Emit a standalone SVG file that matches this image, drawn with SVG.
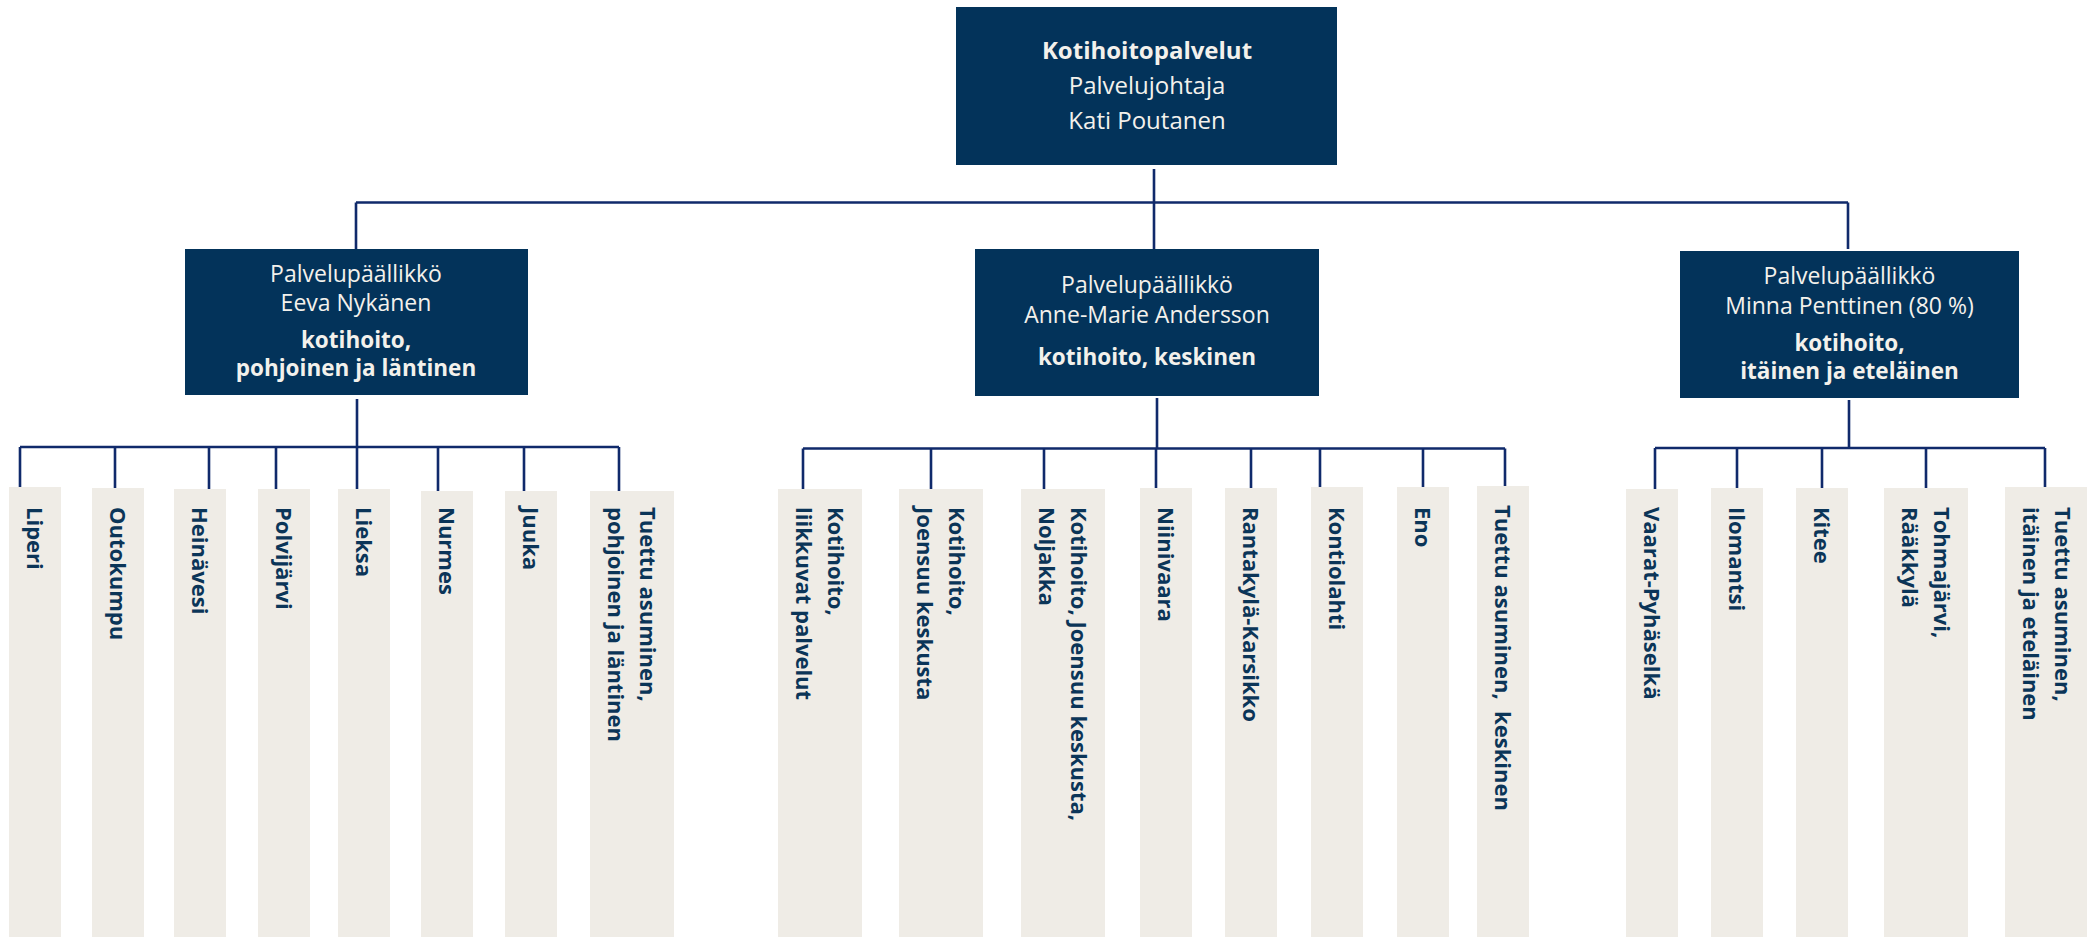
<svg xmlns="http://www.w3.org/2000/svg" width="2087" height="937" viewBox="0 0 2087 937">
<style>
.mgr{fill:#03335a}
.mt{font-family:"Open Sans","Liberation Sans",sans-serif;font-size:23px;fill:#f3f1ec;text-anchor:middle}
.mb{font-weight:bold;font-size:22.5px}
.leaf{fill:#efece6}
.lt{font-family:"Open Sans","Liberation Sans",sans-serif;font-weight:bold;font-size:22px;fill:#0b3558}
.con{stroke:#102a6b;stroke-width:2.6;fill:none}
</style>
<rect width="2087" height="937" fill="#ffffff"/>

<g id="connectors" class="con">
<path d="M1154 169V249M356 202.5H1848M356 202.5V249M1848 202.5V249"/>
<path d="M357 399V447M20 447H619M20 447V487M115 447V488M209 447V489M276 447V489M357 447V489M438 447V491M524 447V491M619 447V491"/>
<path d="M1157 398V448.5M803 448.5H1505M803 448.5V489M931 448.5V489M1044 448.5V489M1156 448.5V488M1251 448.5V488M1320 448.5V487M1423 448.5V487M1505 448.5V486"/>
<path d="M1849 400V448M1655 448H2045M1655 448V489M1737 448V488M1822 448V488M1926 448V488M2045 448V487"/>
</g>

<g id="top">
<rect class="mgr" x="956" y="7" width="381" height="158"/>
<text class="mt" style="font-size:24px" x="1147" y="59"><tspan font-weight="bold">Kotihoitopalvelut</tspan><tspan x="1147" y="94">Palvelujohtaja</tspan><tspan x="1147" y="129">Kati Poutanen</tspan></text>
</g>

<g id="mgr-left">
<rect class="mgr" x="185" y="249" width="343" height="146"/>
<text class="mt" x="356" y="282">Palvelupäällikkö<tspan x="356" y="311">Eeva Nykänen</tspan><tspan class="mb" x="356" y="348">kotihoito,</tspan><tspan class="mb" x="356" y="376">pohjoinen ja läntinen</tspan></text>
</g>

<g id="mgr-middle">
<rect class="mgr" x="975" y="249" width="344" height="147"/>
<text class="mt" x="1147" y="293">Palvelupäällikkö<tspan x="1147" y="323">Anne-Marie Andersson</tspan><tspan class="mb" x="1147" y="365">kotihoito, keskinen</tspan></text>
</g>

<g id="mgr-right">
<rect class="mgr" x="1680" y="251" width="339" height="147"/>
<text class="mt" x="1849.5" y="284">Palvelupäällikkö<tspan x="1849.5" y="314">Minna Penttinen (80 %)</tspan><tspan class="mb" x="1849.5" y="351">kotihoito,</tspan><tspan class="mb" x="1849.5" y="379">itäinen ja eteläinen</tspan></text>
</g>

<g id="leaf-liperi"><rect class="leaf" x="9" y="487" width="52" height="450"/><text class="lt" transform="translate(27,507) rotate(90)">Liperi</text></g>
<g id="leaf-outokumpu"><rect class="leaf" x="92" y="488" width="52" height="449"/><text class="lt" transform="translate(110,507) rotate(90)">Outokumpu</text></g>
<g id="leaf-heinavesi"><rect class="leaf" x="174" y="489" width="52" height="448"/><text class="lt" transform="translate(192,507) rotate(90)">Heinävesi</text></g>
<g id="leaf-polvijarvi"><rect class="leaf" x="258" y="489" width="52" height="448"/><text class="lt" transform="translate(276,507) rotate(90)">Polvijärvi</text></g>
<g id="leaf-lieksa"><rect class="leaf" x="338" y="489" width="52" height="448"/><text class="lt" transform="translate(356,507) rotate(90)">Lieksa</text></g>
<g id="leaf-nurmes"><rect class="leaf" x="421" y="491" width="52" height="446"/><text class="lt" transform="translate(439,507) rotate(90)">Nurmes</text></g>
<g id="leaf-juuka"><rect class="leaf" x="505" y="491" width="52" height="446"/><text class="lt" transform="translate(523,507) rotate(90)">Juuka</text></g>
<g id="leaf-tuettu-pl"><rect class="leaf" x="590" y="491" width="84" height="446"/><text class="lt" transform="translate(639.5,507) rotate(90)">Tuettu asuminen,<tspan x="0" dy="32">pohjoinen ja läntinen</tspan></text></g>

<g id="leaf-liikkuvat"><rect class="leaf" x="778" y="489" width="84" height="448"/><text class="lt" transform="translate(827.5,507) rotate(90)">Kotihoito,<tspan x="0" dy="32">liikkuvat palvelut</tspan></text></g>
<g id="leaf-joensuu"><rect class="leaf" x="899" y="489" width="84" height="448"/><text class="lt" transform="translate(948.5,507) rotate(90)">Kotihoito,<tspan x="0" dy="32">Joensuu keskusta</tspan></text></g>
<g id="leaf-noljakka"><rect class="leaf" x="1021" y="489" width="84" height="448"/><text class="lt" transform="translate(1070.5,507) rotate(90)">Kotihoito, Joensuu keskusta,<tspan x="0" dy="32">Noljakka</tspan></text></g>
<g id="leaf-niinivaara"><rect class="leaf" x="1140" y="488" width="52" height="449"/><text class="lt" transform="translate(1158,507) rotate(90)">Niinivaara</text></g>
<g id="leaf-rantakyla"><rect class="leaf" x="1225" y="488" width="52" height="449"/><text class="lt" transform="translate(1243,507) rotate(90)">Rantakylä-Karsikko</text></g>
<g id="leaf-kontiolahti"><rect class="leaf" x="1311" y="487" width="52" height="450"/><text class="lt" transform="translate(1329,507) rotate(90)">Kontiolahti</text></g>
<g id="leaf-eno"><rect class="leaf" x="1397" y="487" width="52" height="450"/><text class="lt" transform="translate(1415,507) rotate(90)">Eno</text></g>
<g id="leaf-tuettu-k"><rect class="leaf" x="1477" y="486" width="52" height="451"/><text class="lt" transform="translate(1495,505) rotate(90)" xml:space="preserve">Tuettu asuminen,  keskinen</text></g>

<g id="leaf-vaarat"><rect class="leaf" x="1626" y="489" width="52" height="448"/><text class="lt" transform="translate(1644,507) rotate(90)">Vaarat-Pyhäselkä</text></g>
<g id="leaf-ilomantsi"><rect class="leaf" x="1711" y="488" width="52" height="449"/><text class="lt" transform="translate(1729,507) rotate(90)">Ilomantsi</text></g>
<g id="leaf-kitee"><rect class="leaf" x="1796" y="488" width="52" height="449"/><text class="lt" transform="translate(1814,507) rotate(90)">Kitee</text></g>
<g id="leaf-tohmajarvi"><rect class="leaf" x="1884" y="488" width="84" height="449"/><text class="lt" transform="translate(1933.5,507) rotate(90)">Tohmajärvi,<tspan x="0" dy="32">Rääkkylä</tspan></text></g>
<g id="leaf-tuettu-ie"><rect class="leaf" x="2005" y="487" width="84" height="450"/><text class="lt" transform="translate(2054.5,507) rotate(90)">Tuettu asuminen,<tspan x="0" dy="32">itäinen ja eteläinen</tspan></text></g>
</svg>
